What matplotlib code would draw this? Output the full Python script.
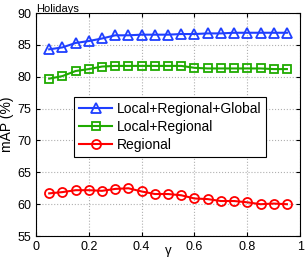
import matplotlib
matplotlib.use("Agg")
import matplotlib.pyplot as plt
import numpy as np

plt.rcParams['font.family'] = ['Liberation Sans', 'DejaVu Sans']

gamma = [0.05, 0.10, 0.15, 0.20, 0.25, 0.30, 0.35, 0.40, 0.45, 0.50,
         0.55, 0.60, 0.65, 0.70, 0.75, 0.80, 0.85, 0.90, 0.95]
lrg = [84.3, 84.6, 85.3, 85.6, 86.0, 86.5, 86.5, 86.6, 86.6, 86.6,
       86.7, 86.7, 86.8, 86.8, 86.9, 86.9, 86.9, 86.9, 86.9]
lr = [79.7, 80.1, 80.9, 81.2, 81.6, 81.7, 81.7, 81.7, 81.7, 81.7,
      81.7, 81.4, 81.3, 81.3, 81.3, 81.3, 81.3, 81.2, 81.2]
reg = [61.7, 61.9, 62.2, 62.2, 62.1, 62.4, 62.5, 62.0, 61.6, 61.6,
       61.4, 60.9, 60.8, 60.5, 60.5, 60.3, 60.0, 60.1, 60.0]

fig = plt.figure(figsize=(3.05, 2.6), dpi=100)
ax = fig.add_axes([0.118, 0.092, 0.866, 0.858])

ax.plot(gamma, lrg, color='#1f3fff', marker='^', markersize=7, mfc='none',
        mew=1.3, lw=1.5, label='Local+Regional+Global')
ax.plot(gamma, lr, color='#1faa00', marker='s', markersize=6, mfc='none',
        mew=1.3, lw=1.5, label='Local+Regional')
ax.plot(gamma, reg, color='#ff0000', marker='o', markersize=6.5, mfc='none',
        mew=1.3, lw=1.5, label='Regional')

ax.set_xlim(0, 1)
ax.set_ylim(55, 90)
ax.set_xticks([0, 0.2, 0.4, 0.6, 0.8, 1])
ax.set_xticklabels(['0', '0.2', '0.4', '0.6', '0.8', '1'])
ax.set_yticks(np.arange(55, 91, 5))
ax.tick_params(labelsize=9, direction='in', length=3, top=True, right=True)
ax.grid(True, linestyle=':', color='#b0b0b0', linewidth=0.8)

ax.set_xlabel('γ', fontsize=9.5)
ax.xaxis.set_label_coords(0.5, -0.042)
ax.set_ylabel('mAP (%)', fontsize=10, labelpad=2)
ax.set_title('Holidays', fontsize=8, loc='left', pad=1)

leg = ax.legend(loc='upper left', bbox_to_anchor=(0.144, 0.625), fontsize=10,
                fancybox=False, framealpha=1, edgecolor='black',
                handlelength=2.4, borderpad=0.35, labelspacing=0.3,
                handletextpad=0.3, borderaxespad=0)
leg.get_frame().set_linewidth(0.8)

fig.savefig('out.png', dpi=100)
